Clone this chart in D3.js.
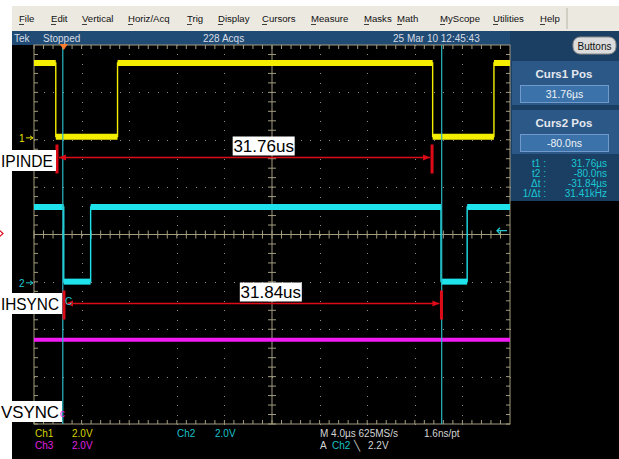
<!DOCTYPE html>
<html>
<head>
<meta charset="utf-8">
<script src="https://cdn.jsdelivr.net/npm/d3@7"></script>
<style>
  body { margin: 0; background: #fff; }
  svg text { font-family: "Liberation Sans", Arial, sans-serif; }
</style>
</head>
<body>
<div id="scope"></div>
<script>
// ----- DATI -----
// tempi in µs (bordi dei livelli), livelli in volt per ogni intervallo
const ch1Times = [-2.5, -0.67, 4.52, 31.0, 36.15, 37.5];
const ch1Levels = [3.16, 0.05, 3.16, 0.05, 3.16];
const ch2Times = [-2.5, 0.0, 2.26, 31.7, 33.9, 37.5];
const ch2Levels = [3.2, 0.05, 3.2, 0.05, 3.2];
const ch3Times = [-2.5, 37.5];
const ch3Levels = [3.1];

// posizione dello zero di ogni canale, in divisioni dal centro
const chOffsets = [2.04, -1.02, -3.77];
const voltsPerDiv = 2.0;

// cursori (µs)
const cursorTimes = [31.76, -0.08];

// misure annotate a mano
const measStart = [-0.57, 0.02];
const measEnd = [30.95, 31.74];
const measLabelAt = [16.8, 17.4];
const measLabels = ['31.76us', '31.84us'];
const signalNames = ['IPINDE', 'IHSYNC', 'VSYNC'];

const menuItems = ['File', 'Edit', 'Vertical', 'Horiz/Acq', 'Trig', 'Display', 'Cursors',
    'Measure', 'Masks', 'Math', 'MyScope', 'Utilities', 'Help'];
const menuX = [19, 51, 82, 128, 187, 218, 262, 311, 364, 397, 440, 493, 540];
const readoutLabels = ['t1 :', 't2 :', '\u0394t :', '1/\u0394t :'];
const readoutValues = ['31.76\u00b5s', '-80.0ns', '-31.84\u00b5s', '31.41kHz'];

// ----- COSTRUZIONE -----
const W = 619, H = 459;
const gLeft = 34, gRight = 510, gTop = 45, gBottom = 424;

const svg = d3.select('#scope')
    .append('svg')
    .attr('width', W)
    .attr('height', H);

// scale: divisioni e tempo
const xDiv = d3.scaleLinear().domain([0, 10]).range([gLeft, gRight]);
const yDiv = d3.scaleLinear().domain([-4, 4]).range([gBottom, gTop]);
const x = d3.scaleLinear().domain([-2.5, 37.5]).range([gLeft, gRight]);
function yCh(ch, v) {
    return yDiv(chOffsets[ch] + v / voltsPerDiv);
}

// sfondi
svg.append('rect').attr('width', W).attr('height', H).attr('fill', '#fff');
svg.append('rect').attr('x', 12).attr('y', 31).attr('width', W - 12).attr('height', H - 31).attr('fill', '#000');
svg.append('rect').attr('x', 12).attr('y', 6).attr('width', W - 12).attr('height', 25).attr('fill', '#ece9e1');
svg.append('line').attr('x1', 567).attr('x2', 567).attr('y1', 8).attr('y2', 29).attr('stroke', '#b8b4a8');
svg.append('rect').attr('x', 12).attr('y', 31).attr('width', W - 12).attr('height', 14).attr('fill', '#1f4b74');
svg.append('rect').attr('x', 510).attr('y', 31).attr('width', W - 510).attr('height', 170).attr('fill', '#1b3e63');

// menu
svg.append('g')
    .selectAll('text')
    .data(menuItems)
    .join('text')
    .attr('x', (d, i) => menuX[i])
    .attr('y', 22)
    .attr('font-size', 9.6)
    .attr('fill', '#111')
    .text(d => d);
svg.append('g')
    .selectAll('line')
    .data(menuItems)
    .join('line')
    .attr('x1', (d, i) => menuX[i])
    .attr('x2', (d, i) => menuX[i] + 5)
    .attr('y1', 24.5).attr('y2', 24.5)
    .attr('stroke', '#111').attr('stroke-width', 0.8);

// barra di stato
const status = [['Tek', 14], ['Stopped', 43], ['228 Acqs', 203], ['25 Mar 10 12:45:43', 393]];
svg.append('g')
    .selectAll('text')
    .data(status)
    .join('text')
    .attr('x', d => d[1])
    .attr('y', 42)
    .attr('font-size', 10)
    .attr('fill', '#d8dde4')
    .text(d => d[0]);

// ----- GRATICOLA -----
const grid = svg.append('g');
const gridCol = '#a39c7e';
const dots = [];
for (let i = 1; i < 10; i++) {
    if (i === 5) continue;
    for (let j = 0; j <= 40; j++) dots.push([xDiv(i), yDiv(-4 + j * 0.2)]);
}
for (let i = -3; i <= 3; i++) {
    if (i === 0) continue;
    for (let j = 0; j <= 50; j++) dots.push([xDiv(j * 0.2), yDiv(i)]);
}
grid.selectAll('rect.dot')
    .data(dots)
    .join('rect')
    .attr('class', 'dot')
    .attr('x', d => Math.round(d[0]))
    .attr('y', d => Math.round(d[1]))
    .attr('width', 1).attr('height', 1)
    .attr('fill', '#8c8c84');

// assi centrali
grid.append('line').attr('x1', gLeft).attr('x2', gRight).attr('y1', yDiv(0)).attr('y2', yDiv(0)).attr('stroke', gridCol);
grid.append('line').attr('x1', xDiv(5)).attr('x2', xDiv(5)).attr('y1', gTop).attr('y2', gBottom).attr('stroke', gridCol);

const hTicks = d3.range(0, 50).map(k => xDiv(k * 0.2));
const vTicks = d3.range(0, 40).map(k => yDiv(-4 + k * 0.2));
function tickLines(data, fn) {
    grid.append('g')
        .selectAll('line')
        .data(data)
        .join('line')
        .each(function (d) {
            const c = fn(d);
            d3.select(this).attr('x1', c[0]).attr('y1', c[1]).attr('x2', c[2]).attr('y2', c[3]);
        })
        .attr('stroke', gridCol);
}
const cy = yDiv(0), cx = xDiv(5);
tickLines(hTicks, d => [d, cy - 4, d, cy + 4]);
tickLines(vTicks, d => [cx - 4, d, cx + 4, d]);
tickLines(hTicks, d => [d, gTop, d, gTop + 4]);
tickLines(hTicks, d => [d, gBottom, d, gBottom - 4]);
tickLines(vTicks, d => [gLeft, d, gLeft + 4, d]);
tickLines(vTicks, d => [gRight, d, gRight - 4, d]);

grid.append('rect')
    .attr('x', gLeft).attr('y', gTop)
    .attr('width', gRight - gLeft).attr('height', gBottom - gTop)
    .attr('fill', 'none').attr('stroke', gridCol);

// ----- TRACCE -----
function stepPoints(times, levels) {
    const pts = [];
    levels.forEach((v, i) => {
        pts.push([times[i], v]);
        pts.push([times[i + 1], v]);
    });
    return pts;
}
function drawTrace(ch, times, levels, color, band) {
    const pts = stepPoints(times, levels);
    const line = d3.line().x(d => x(d[0])).y(d => yCh(ch, d[1]));
    const g = svg.append('g');
    g.append('path')
        .attr('d', line(pts))
        .attr('fill', 'none')
        .attr('stroke', color)
        .attr('stroke-width', 1.4);
    g.selectAll('line')
        .data(levels)
        .join('line')
        .attr('x1', (d, i) => x(times[i]))
        .attr('x2', (d, i) => x(times[i + 1]))
        .attr('y1', d => yCh(ch, d))
        .attr('y2', d => yCh(ch, d))
        .attr('stroke', color)
        .attr('stroke-width', band);
}
drawTrace(2, ch3Times, ch3Levels, '#f21cf2', 4);
drawTrace(0, ch1Times, ch1Levels, '#f4ee00', 6);
drawTrace(1, ch2Times, ch2Levels, '#1fe3ec', 6);

// marcatori di massa
const gndColors = ['#e8e000', '#1fc8d0'];
[0, 1].forEach(ch => {
    const yy = yCh(ch, 0);
    svg.append('text').attr('x', 19).attr('y', yy + 4).attr('font-size', 10).attr('fill', gndColors[ch]).text(ch + 1);
    svg.append('path')
        .attr('d', `M26,${yy}L33,${yy}M30,${yy - 2}L33,${yy}L30,${yy + 2}`)
        .attr('stroke', gndColors[ch]).attr('fill', 'none');
});
// livello di trigger (2.2V su Ch2)
const trigY = yCh(1, 2.2);
svg.append('path')
    .attr('d', `M507,${trigY}L497,${trigY}M500,${trigY - 3}L497,${trigY}L500,${trigY + 3}`)
    .attr('stroke', '#1fc8d0').attr('stroke-width', 1.3).attr('fill', 'none');

// cursori
svg.append('g')
    .selectAll('line')
    .data(cursorTimes)
    .join('line')
    .attr('x1', d => x(d)).attr('x2', d => x(d))
    .attr('y1', gTop).attr('y2', gBottom)
    .attr('stroke', '#2ab8c4').attr('stroke-width', 1.2);

// marcatore trigger in alto
const tx = x(0);
svg.append('path')
    .attr('d', `M${tx - 4},44L${tx + 4},44L${tx},50Z`)
    .attr('fill', '#ff7a2a');

// ----- ANNOTAZIONI -----
const red = '#dd0a18';
const measY = [157.5, 303.5];
measLabels.forEach((lab, i) => {
    const x0 = x(measStart[i]), x1 = x(measEnd[i]), yy = measY[i];
    const g = svg.append('g');
    g.append('line').attr('x1', x0 + 2).attr('x2', x1 - 2).attr('y1', yy).attr('y2', yy)
        .attr('stroke', red).attr('stroke-width', 1.3);
    g.append('path').attr('d', `M${x0 + 2},${yy}L${x0 + 9},${yy - 3}L${x0 + 9},${yy + 3}Z`).attr('fill', red);
    g.append('path').attr('d', `M${x1 - 2},${yy}L${x1 - 9},${yy - 3}L${x1 - 9},${yy + 3}Z`).attr('fill', red);
    [x0, x1].forEach(xx => {
        g.append('rect').attr('x', xx - 1.5).attr('y', yy - 13).attr('width', 3).attr('height', 29).attr('fill', red);
    });
    const lx = x(measLabelAt[i]);
    g.append('rect').attr('x', lx - 31).attr('y', yy - 21).attr('width', 62).attr('height', 19).attr('fill', '#fff');
    g.append('text').attr('x', lx).attr('y', yy - 5.5).attr('text-anchor', 'middle')
        .attr('font-size', 17).attr('fill', '#000').text(lab);
});

// nomi dei segnali (box bianchi sul bordo sinistro)
const nameBox = [[150, 56], [293, 62], [401, 62]];
signalNames.forEach((n, i) => {
    svg.append('rect').attr('x', 0).attr('y', nameBox[i][0]).attr('width', nameBox[i][1]).attr('height', 21).attr('fill', '#fff');
    svg.append('text').attr('x', 1).attr('y', nameBox[i][0] + 17)
        .attr('font-size', 17).attr('fill', '#000')
        .attr('textLength', nameBox[i][1] - 4)
        .attr('lengthAdjust', 'spacingAndGlyphs')
        .text(n);
});
svg.append('text').attr('x', 65).attr('y', 305).attr('font-size', 10).attr('fill', '#1fc8d0').text('C');
svg.append('text').attr('x', 60).attr('y', 417).attr('font-size', 10).attr('fill', '#e020e0').text('c');
// indicatore rosso a sinistra
svg.append('path').attr('d', 'M-2,229L3,233.5L-2,238').attr('stroke', red).attr('fill', 'none').attr('stroke-width', 1.2);

// ----- PANNELLO DESTRO -----
const panel = svg.append('g');
panel.append('rect').attr('x', 573).attr('y', 37).attr('width', 43).attr('height', 17).attr('rx', 7)
    .attr('fill', '#dcdcdc').attr('stroke', '#8a8a8a');
panel.append('text').attr('x', 594.5).attr('y', 49.5).attr('text-anchor', 'middle').attr('font-size', 10)
    .attr('fill', '#111').text('Buttons');

const boxTitles = ['Curs1 Pos', 'Curs2 Pos'];
const boxValues = ['31.76\u00b5s', '-80.0ns'];
const boxY = [61, 110];
boxTitles.forEach((t, i) => {
    panel.append('rect').attr('x', 512).attr('y', boxY[i]).attr('width', 107).attr('height', 44).attr('fill', '#2b5886');
    panel.append('text').attr('x', 564).attr('y', boxY[i] + 17).attr('text-anchor', 'middle')
        .attr('font-size', 11.5).attr('font-weight', 'bold').attr('fill', '#e4e8ee').text(t);
    panel.append('rect').attr('x', 520.5).attr('y', boxY[i] + 24.5).attr('width', 88).attr('height', 17)
        .attr('fill', '#3b72aa').attr('stroke', '#6f9acb');
    panel.append('text').attr('x', 564.5).attr('y', boxY[i] + 37).attr('text-anchor', 'middle')
        .attr('font-size', 10.5).attr('fill', '#eef2f6').text(boxValues[i]);
});

panel.selectAll('text.rl')
    .data(readoutLabels)
    .join('text')
    .attr('class', 'rl')
    .attr('x', 546).attr('y', (d, i) => 167 + i * 10)
    .attr('text-anchor', 'end')
    .attr('font-size', 10).attr('fill', '#19c8d2')
    .text(d => d);
panel.selectAll('text.rv')
    .data(readoutValues)
    .join('text')
    .attr('class', 'rv')
    .attr('x', 607).attr('y', (d, i) => 167 + i * 10)
    .attr('text-anchor', 'end')
    .attr('font-size', 10).attr('fill', '#19c8d2')
    .text(d => d);

// ----- LETTURE IN BASSO -----
const yel = '#d8d400', cya = '#19c0c8', mag = '#e020e0', wht = '#d4d4d4';
const readouts = [
    ['Ch1', 35, 437, yel], ['2.0V', 72, 437, yel], ['Ch2', 177, 437, cya], ['2.0V', 215, 437, cya],
    ['M 4.0\u00b5s 625MS/s', 320, 437, wht], ['1.6ns/pt', 424, 437, wht],
    ['Ch3', 35, 449, mag], ['2.0V', 72, 449, mag],
    ['A', 320, 449, wht], ['Ch2', 332, 449, cya], ['\u2572', 354, 449, wht], ['2.2V', 368, 449, wht]
];
svg.append('g')
    .selectAll('text')
    .data(readouts)
    .join('text')
    .attr('x', d => d[1]).attr('y', d => d[2])
    .attr('font-size', 10)
    .attr('fill', d => d[3])
    .text(d => d[0]);
</script>
</body>
</html>
